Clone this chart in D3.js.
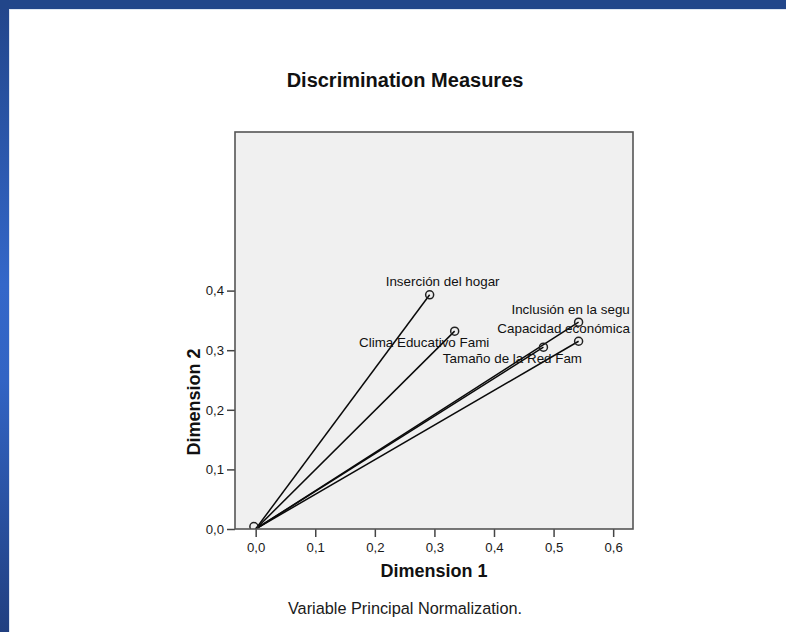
<!DOCTYPE html>
<html>
<head>
<meta charset="utf-8">
<script src="https://cdn.jsdelivr.net/npm/d3@7"></script>
<style>
  html, body { margin: 0; padding: 0; background: #fff; }
  svg { display: block; font-family: "Liberation Sans", Arial, sans-serif; }
</style>
</head>
<body>
<svg id="chart" width="786" height="632"></svg>
<script>
// ---- data ----
const variables = ["Inserción del hogar", "Clima Educativo Fami", "Inclusión en la segu", "Capacidad económica", "Tamaño de la Red Fam"];
const dim1 = [0.292, 0.334, 0.542, 0.542, 0.483];
const dim2 = [0.393, 0.332, 0.347, 0.315, 0.305];
const originPoint = [-0.003, 0.004];
const xTicks = [0.0, 0.1, 0.2, 0.3, 0.4, 0.5, 0.6];
const xTickLabels = ["0,0", "0,1", "0,2", "0,3", "0,4", "0,5", "0,6"];
const yTicks = [0.0, 0.1, 0.2, 0.3, 0.4];
const yTickLabels = ["0,0", "0,1", "0,2", "0,3", "0,4"];
const titleText = "Discrimination Measures";
const xTitle = "Dimension 1";
const yTitle = "Dimension 2";
const footnote = "Variable Principal Normalization.";

// ---- layout ----
const W = 786, H = 632;
const plot = { left: 235, right: 633, top: 132, bottom: 529 };
const svg = d3.select("#chart");

// background: blue window frame
const defs = svg.append("defs");
const grad = defs.append("linearGradient").attr("id", "sideGrad")
  .attr("x1", 0).attr("y1", 0).attr("x2", 0).attr("y2", 1);
grad.append("stop").attr("offset", "0%").attr("stop-color", "#22458a");
grad.append("stop").attr("offset", "45%").attr("stop-color", "#3467c9");
grad.append("stop").attr("offset", "60%").attr("stop-color", "#3264c4");
grad.append("stop").attr("offset", "100%").attr("stop-color", "#213f80");
svg.append("rect").attr("x", 0).attr("y", 0).attr("width", W).attr("height", H).attr("fill", "url(#sideGrad)");
svg.append("rect").attr("x", 0).attr("y", 0).attr("width", W).attr("height", 9).attr("fill", "#22468a");
svg.append("rect").attr("x", 9).attr("y", 9).attr("width", W - 9).attr("height", H - 9).attr("fill", "#dfe6f2");
svg.append("rect").attr("x", 10).attr("y", 10).attr("width", W - 10).attr("height", H - 10).attr("fill", "#ffffff");

// scales
const x = d3.scaleLinear().domain([-0.0347, 0.6333]).range([plot.left, plot.right]);
const y = d3.scaleLinear().domain([0, 0.6661]).range([plot.bottom, plot.top]);

// plot background
svg.append("rect")
  .attr("x", plot.left).attr("y", plot.top)
  .attr("width", plot.right - plot.left).attr("height", plot.bottom - plot.top)
  .attr("fill", "#f0f0f0");

defs.append("clipPath").attr("id", "plotClip").append("rect")
  .attr("x", plot.left).attr("y", plot.top)
  .attr("width", plot.right - plot.left).attr("height", plot.bottom - plot.top);

// title
svg.append("text").attr("x", 405).attr("y", 87).attr("text-anchor", "middle")
  .attr("font-size", 20).attr("font-weight", "bold").attr("fill", "#111").text(titleText);

// axes
const xAxis = d3.axisBottom(x).tickValues(xTicks).tickSize(8).tickPadding(6)
  .tickFormat((d, i) => xTickLabels[i]);
const yAxis = d3.axisLeft(y).tickValues(yTicks).tickSize(8).tickPadding(3)
  .tickFormat((d, i) => yTickLabels[i]);

const gx = svg.append("g").attr("transform", `translate(0,${plot.bottom})`).call(xAxis);
const gy = svg.append("g").attr("transform", `translate(${plot.left},0)`).call(yAxis);
[gx, gy].forEach(g => {
  g.select(".domain").remove();
  g.selectAll(".tick line").attr("stroke", "#444").attr("stroke-width", 1.5);
  g.selectAll(".tick text").attr("font-size", 13.2).attr("fill", "#1a1a1a")
    .attr("font-family", "'Liberation Sans', Arial, sans-serif");
});

// axis titles
svg.append("text").attr("x", 434).attr("y", 577).attr("text-anchor", "middle")
  .attr("font-size", 18).attr("font-weight", "bold").attr("fill", "#111").text(xTitle);
svg.append("text").attr("transform", "translate(200,402) rotate(-90)").attr("text-anchor", "middle")
  .attr("font-size", 18).attr("font-weight", "bold").attr("fill", "#111").text(yTitle);

// footnote
svg.append("text").attr("x", 405).attr("y", 614).attr("text-anchor", "middle")
  .attr("font-size", 16.3).attr("fill", "#1a1a1a").text(footnote);

// data
const pts = variables.map((name, i) => ({ name, d1: dim1[i], d2: dim2[i] }));
const marks = svg.append("g").attr("clip-path", "url(#plotClip)");

// vectors from origin
marks.selectAll("line.vec").data(pts).enter().append("line")
  .attr("class", "vec")
  .attr("x1", x(0)).attr("y1", y(0))
  .attr("x2", d => x(d.d1)).attr("y2", d => y(d.d2))
  .attr("stroke", "#0a0a0a").attr("stroke-width", 1.5);

// origin marker
marks.append("circle").attr("cx", x(originPoint[0])).attr("cy", y(originPoint[1])).attr("r", 4)
  .attr("fill", "none").attr("stroke", "#222").attr("stroke-width", 1.5);

// point markers
marks.selectAll("circle.pt").data(pts).enter().append("circle")
  .attr("class", "pt")
  .attr("cx", d => x(d.d1)).attr("cy", d => y(d.d2)).attr("r", 4)
  .attr("fill", "none").attr("stroke", "#222").attr("stroke-width", 1.5);

// labels (placement offsets in px)
const labelOffset = {
  "Inserción del hogar": [13, -9],
  "Clima Educativo Fami": [-30.5, 16],
  "Inclusión en la segu": [-8, -8],
  "Capacidad económica": [-15, -8],
  "Tamaño de la Red Fam": [-31, 16]
};
marks.selectAll("text.lbl").data(pts).enter().append("text")
  .attr("class", "lbl")
  .attr("x", d => x(d.d1) + labelOffset[d.name][0])
  .attr("y", d => y(d.d2) + labelOffset[d.name][1])
  .attr("text-anchor", "middle")
  .attr("font-size", 13.4).attr("fill", "#111").text(d => d.name);

// frame
svg.append("rect")
  .attr("x", plot.left).attr("y", plot.top)
  .attr("width", plot.right - plot.left).attr("height", plot.bottom - plot.top)
  .attr("fill", "none").attr("stroke", "#555").attr("stroke-width", 1.6);
</script>
</body>
</html>
